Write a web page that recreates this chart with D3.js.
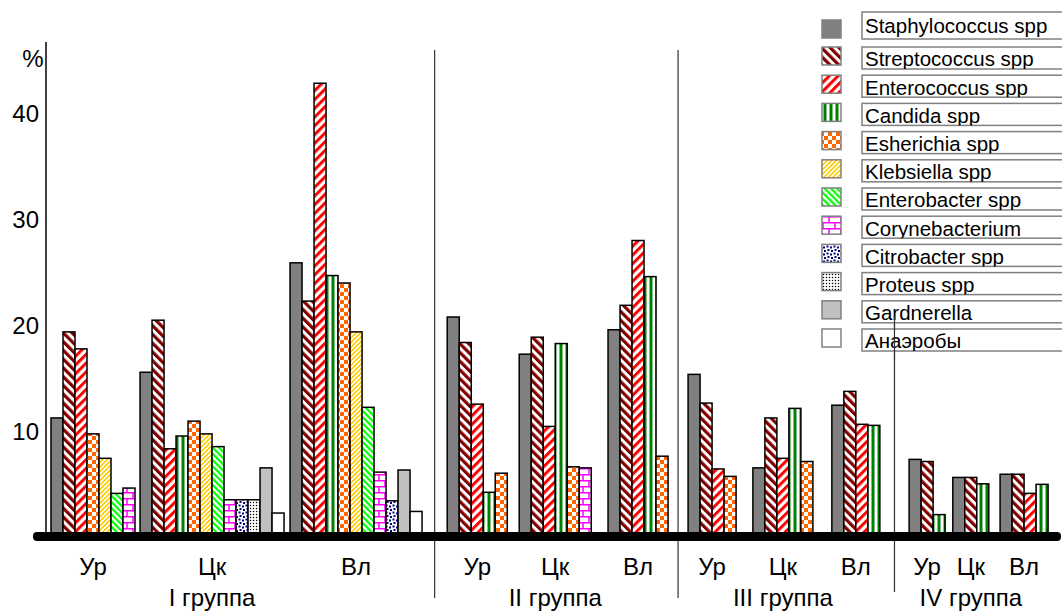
<!DOCTYPE html>
<html><head><meta charset="utf-8">
<script src="https://cdn.jsdelivr.net/npm/d3@7"></script>
<style>
body{margin:0;background:#fff}
svg{display:block;font-family:"Liberation Sans",Arial,sans-serif}
</style>
</head><body>
<svg id="c" width="1062" height="612"></svg>
<script>
// ---------- DATA ----------
const groups = ["I группа", "II группа", "III группа", "IV группа"];
const sites = ["Ур", "Цк", "Вл"];
const seriesNames = ["Staphylococcus spp", "Streptococcus spp", "Enterococcus spp", "Candida spp",
  "Esherichia spp", "Klebsiella spp", "Enterobacter spp", "Corynebacterium", "Citrobacter spp",
  "Proteus  spp", "Gardnerella", "Анаэробы"];
// values per cluster: I-Ур, I-Цк, I-Вл, II-Ур, II-Цк, II-Вл, III-Ур, III-Цк, III-Вл, IV-Ур, IV-Цк, IV-Вл
const staphylococcus = [11.3, 15.6, 25.9, 20.8, 17.3, 19.6, 15.4, 6.6, 12.5, 7.4, 5.7, 6.0];
const streptococcus  = [19.4, 20.5, 22.3, 18.4, 18.9, 21.9, 12.7, 11.3, 13.8, 7.2, 5.7, 6.0];
const enterococcus   = [17.8, 8.4, 42.8, 12.6, 10.5, 28.0, 6.5, 7.5, 10.7, null, null, 4.2];
const candida        = [null, 9.6, 24.7, 4.3, 18.3, 24.6, null, 12.2, 10.6, 2.2, 5.1, 5.05];
const esherichia     = [9.8, 11.0, 24.0, 6.1, 6.7, 7.7, 5.8, 7.2, null, null, null, null];
const klebsiella     = [7.5, 9.8, 19.4, null, null, null, null, null, null, null, null, null];
const enterobacter   = [4.2, 8.6, 12.3, null, null, null, null, null, null, null, null, null];
const corynebacterium= [4.7, 3.6, 6.2, null, 6.6, null, null, null, null, null, null, null];
const citrobacter    = [null, 3.6, 3.5, null, null, null, null, null, null, null, null, null];
const proteus        = [null, 3.6, null, null, null, null, null, null, null, null, null, null];
const gardnerella    = [null, 6.6, 6.4, null, null, null, null, null, null, null, null, null];
const anaerobes      = [null, 2.35, 2.5, null, null, null, null, null, null, null, null, null];
const yTicks = [10, 20, 30, 40];

const seriesValues = [staphylococcus, streptococcus, enterococcus, candida, esherichia, klebsiella,
  enterobacter, corynebacterium, citrobacter, proteus, gardnerella, anaerobes];

// ---------- LAYOUT ----------
const clusterGaps = [0.42, 0.5, 2.1, 1.0, 1.4, 1.67, 1.4, 1.58, 2.44, 0.64, 0.94];
const svg = d3.select("#c");
const defs = svg.append("defs");

function pat(id, w, h, rot, draw) {
  const p = defs.append("pattern").attr("id", id).attr("patternUnits", "userSpaceOnUse")
    .attr("width", w).attr("height", h);
  if (rot) p.attr("patternTransform", `rotate(${rot})`);
  p.append("rect").attr("width", w).attr("height", h).attr("fill", "#fff");
  draw(p);
}
pat("p1", 6.2, 6.2, -45, p => p.append("rect").attr("width", 3.2).attr("height", 6.2).attr("fill", "#800000"));
pat("p2", 6.2, 6.2, 45, p => p.append("rect").attr("width", 3).attr("height", 6.2).attr("fill", "#ff0000"));
pat("p3", 6, 6, 0, p => p.append("rect").attr("x", 1.5).attr("width", 3).attr("height", 6).attr("fill", "#008000"));
pat("p4", 8, 8, 0, p => { p.append("rect").attr("width", 4).attr("height", 4).attr("fill", "#ff6600");
  p.append("rect").attr("x", 4).attr("y", 4).attr("width", 4).attr("height", 4).attr("fill", "#ff6600"); });
pat("p5", 3.2, 3.2, 45, p => p.append("rect").attr("width", 1.6).attr("height", 3.2).attr("fill", "#ffcc00"));
pat("p6", 4.4, 4.4, -45, p => p.append("rect").attr("width", 2.2).attr("height", 4.4).attr("fill", "#00ff00"));
pat("p7", 12, 12, 0, p => p.append("path").attr("d", "M0,0.75H12M0,6.75H12M1,0.75V6.75M7,6.75V12.75")
  .attr("stroke", "#ff00ff").attr("stroke-width", 1.5).attr("fill", "none"));
pat("p8", 7, 7, 0, p => { [[1.5, 1.5], [5, 2.5], [2.5, 5], [6, 6]].forEach(([cx, cy]) =>
  p.append("rect").attr("x", cx - 1).attr("y", cy - 1).attr("width", 2).attr("height", 2).attr("fill", "#000080")); });
pat("p9", 3, 3, 0, p => p.append("circle").attr("cx", 1.5).attr("cy", 1.5).attr("r", 0.75).attr("fill", "#000"));

const fills = ["#808080", "url(#p1)", "url(#p2)", "url(#p3)", "url(#p4)", "url(#p5)", "url(#p6)",
  "url(#p7)", "url(#p8)", "url(#p9)", "#c0c0c0", "#ffffff"];

// clusters
const clusters = [];
let u = 0;
groups.forEach((g, gi) => sites.forEach((s, si) => {
  const ci = gi * 3 + si;
  if (ci > 0) u += clusterGaps[ci - 1];
  const bars = [];
  seriesValues.forEach((arr, k) => { if (arr[ci] != null) bars.push({ k, v: arr[ci] }); });
  clusters.push({ ci, gi, si, start: u, n: bars.length, bars });
  u += bars.length;
}));
const totalUnits = u;
const barPx = 12;
const x = d3.scaleLinear().domain([0, totalUnits]).range([51, 51 + barPx * totalUnits]);
const y = d3.scaleLinear().domain([0, 40]).range([538, 113]);

// y axis labels
svg.append("g").selectAll("text").data(yTicks).join("text")
  .attr("x", 39).attr("y", d => y(d)).attr("text-anchor", "end").attr("dominant-baseline", "central")
  .attr("font-size", 24).text(d => d);
svg.append("text").attr("x", 33).attr("y", 58).attr("text-anchor", "middle").attr("dominant-baseline", "central")
  .attr("font-size", 24).text("%");

// dividers
const divTop = [50, 50, 317];
const divBot = [598, 598, 592];
for (let g = 0; g < 3; g++) {
  const a = clusters[g * 3 + 2], b = clusters[g * 3 + 3];
  const xm = (x(a.start + a.n) + x(b.start)) / 2;
  svg.append("line").attr("x1", xm).attr("x2", xm).attr("y1", divTop[g]).attr("y2", divBot[g])
    .attr("stroke", "#333").attr("stroke-width", 1.2);
}

// bars
const gb = svg.append("g");
clusters.forEach(c => {
  gb.selectAll(null).data(c.bars).join("rect")
    .attr("x", (d, i) => x(c.start + i)).attr("width", x(1) - x(0))
    .attr("y", d => y(d.v)).attr("height", d => y(0) - y(d.v))
    .attr("fill", d => fills[d.k]).attr("stroke", "#000").attr("stroke-width", 1.5);
});

// y axis line and floor
svg.append("line").attr("x1", 46).attr("x2", 46).attr("y1", 42).attr("y2", 535).attr("stroke", "#000").attr("stroke-width", 1.5);
svg.append("rect").attr("x", 33).attr("y", 532).attr("width", 1028).attr("height", 9).attr("rx", 4).attr("fill", "#000");

// site labels
svg.append("g").selectAll("text").data(clusters).join("text")
  .attr("x", c => x(c.start + c.n / 2)).attr("y", 566).attr("text-anchor", "middle").attr("dominant-baseline", "central")
  .attr("font-size", 24).text(c => sites[c.si]);
// group labels
svg.append("g").selectAll("text").data(groups).join("text")
  .attr("x", (g, gi) => { const c = clusters[gi * 3 + 1]; return x(c.start + c.n / 2); })
  .attr("y", 597).attr("text-anchor", "middle").attr("dominant-baseline", "central")
  .attr("font-size", 24).text(g => g);

// legend
const ly = i => i === 0 ? 26 : 58 + (i - 1) * 28.2;
const lg = svg.append("g");
seriesNames.forEach((name, i) => {
  const cy = ly(i);
  const by = i === 0 ? 12 : cy - 11, bh = i === 0 ? 27 : 22;
  const cp = defs.append("clipPath").attr("id", "lc" + i);
  cp.append("rect").attr("x", 862).attr("y", by).attr("width", 220).attr("height", bh);
  lg.append("rect").attr("x", 862).attr("y", by).attr("width", 220).attr("height", bh)
    .attr("fill", "#fff").attr("stroke", "#808080").attr("stroke-width", 1.5);
  lg.append("text").attr("x", 865).attr("y", i === 0 ? 32.5 : cy + 8.3).attr("font-size", 20.5)
    .attr("clip-path", `url(#lc${i})`).text(name);
  const my = i === 0 ? 29 : cy - 2;
  lg.append("rect").attr("x", 822).attr("y", my - 9).attr("width", 19).attr("height", 18)
    .attr("fill", fills[i]).attr("stroke", "#808080").attr("stroke-width", 1.5);
});
// third divider drawn over legend bottom part
{
  const a = clusters[8], b = clusters[9];
  const xm = (x(a.start + a.n) + x(b.start)) / 2;
  svg.append("line").attr("x1", xm).attr("x2", xm).attr("y1", 317).attr("y2", 360)
    .attr("stroke", "#333").attr("stroke-width", 1.2);
}
</script>
</body></html>
